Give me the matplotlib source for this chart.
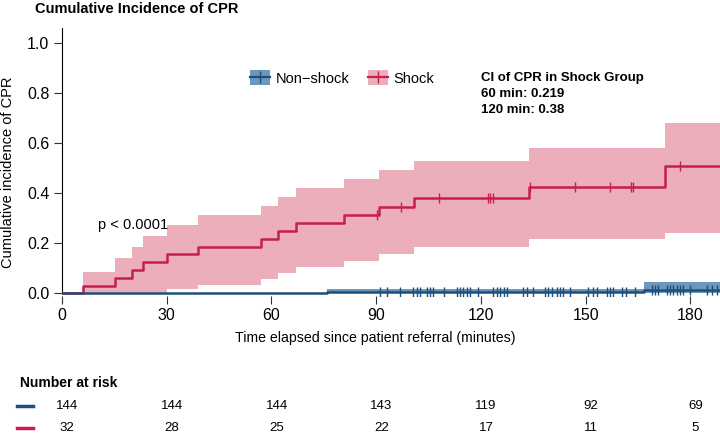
import numpy as np
import matplotlib
matplotlib.use("Agg")
import matplotlib.pyplot as plt
from matplotlib.patches import Patch
from matplotlib.lines import Line2D
from matplotlib.transforms import blended_transform_factory

plt.rcParams['font.family'] = ['Liberation Sans', 'DejaVu Sans']

# Shock group: cumulative incidence steps and confidence band
shock_time = [0, 6.1, 15.2, 20.1, 23.1, 30.0, 39.1, 57.0, 62.0, 67.0, 80.9, 90.9, 100.9, 133.9, 172.8]
shock_est = [0, 0.031, 0.0625, 0.094, 0.125, 0.156, 0.187, 0.219, 0.25, 0.282, 0.313, 0.346, 0.380, 0.426, 0.509]
shock_lower = [0, 0, 0, 0, 0, 0.016, 0.033, 0.057, 0.082, 0.106, 0.129, 0.157, 0.186, 0.216, 0.24]
shock_upper = [0, 0.087, 0.14, 0.186, 0.23, 0.273, 0.313, 0.35, 0.386, 0.422, 0.457, 0.493, 0.529, 0.58, 0.682]
shock_censor = [90.2, 97.0, 108.0, 122.0, 122.6, 123.4, 134.2, 147.0, 157.0, 163.0, 163.7, 176.9]

# Non-shock group
nonshock_time = [0, 75.8, 166.6]
nonshock_est = [0, 0.007, 0.015]
nonshock_lower = [0, 0, 0]
nonshock_upper = [0, 0.017, 0.044]
nonshock_censor = [91.1, 93.2, 96.8, 100.6, 101.6, 102.6, 104.5, 105.4, 106.4, 109.3,
                   113.1, 114.0, 115.0, 115.9, 116.9, 119.3, 123.6, 124.5, 125.5, 126.5,
                   127.4, 132.2, 133.1, 135.0, 138.4, 139.3, 140.3, 141.7, 142.7, 143.6,
                   145.5, 150.8, 152.2, 153.2, 156.0, 157.0, 157.9, 160.3, 161.7, 164.1,
                   168.9, 169.8, 170.8, 173.2, 174.1, 175.1, 176.1, 177.0, 178.0, 179.9,
                   184.7, 186.1, 187.6]

risk_times = [0, 30, 60, 90, 120, 150, 180]
risk_nonshock = [144, 144, 144, 143, 119, 92, 69]
risk_shock = [32, 28, 25, 22, 17, 11, 5]

x_max = 188.5
blue, blue_fill = '#1F4E7A', '#6E97BE'
red, red_fill = '#C81E4E', '#ECAEBB'

W, H = 720, 437
fig = plt.figure(figsize=(7.2, 4.37), dpi=100)
ax = fig.add_axes([62 / W, 1 - 296 / H, (W - 62) / W, (296 - 28) / H])


def draw_group(times, est, lower, upper, censor, line_col, fill_col):
    t = np.append(times, x_max)
    e = np.append(est, est[-1])
    lo = np.append(lower, lower[-1])
    up = np.append(upper, upper[-1])
    ax.fill_between(t, lo, up, step='post', color=fill_col, linewidth=0, zorder=1)
    ax.step(t, e, where='post', color=line_col, lw=1.8, zorder=3)
    idx = np.searchsorted(times, censor, side='right') - 1
    ax.plot(censor, np.array(est)[idx], ls='none', marker='|', ms=7, mew=1.0,
            color=line_col, zorder=4)


draw_group(shock_time, shock_est, shock_lower, shock_upper, shock_censor, red, red_fill)
draw_group(nonshock_time, nonshock_est, nonshock_lower, nonshock_upper, nonshock_censor,
           blue, blue_fill)

ax.set_xlim(0, x_max)
ax.set_ylim(-0.01, 1.06)
ax.set_xticks(risk_times)
ax.set_yticks(np.arange(0, 1.01, 0.2))
ax.yaxis.set_major_formatter(plt.FormatStrFormatter('%.1f'))
for s in ['top', 'right', 'bottom']:
    ax.spines[s].set_visible(False)
ax.spines['left'].set_bounds(0, 1.06)
ax.tick_params(axis='both', labelsize=11.5, length=6, width=0.8, color='#333333', pad=3)

# legend
h_ns = (Patch(facecolor=blue_fill, edgecolor='none'),
        Line2D([], [], color=blue, lw=1.6, marker='|', ms=9, mew=1.0))
h_s = (Patch(facecolor=red_fill, edgecolor='none'),
       Line2D([], [], color=red, lw=1.6, marker='|', ms=9, mew=1.0))
fig.legend([h_ns, h_s], ['Non\u2212shock', 'Shock'], ncol=2, frameon=False,
           loc='center', bbox_to_anchor=(342 / W, 1 - 78 / H), fontsize=10.5,
           handlelength=1.4, handleheight=1.2, handletextpad=0.35, columnspacing=1.3)

fig.text(35 / W, 1 - 2 / H, 'Cumulative Incidence of CPR', fontsize=10.5,
         fontweight='bold', ha='left', va='top')
fig.text(481 / W, 1 - 72 / H, 'CI of CPR in Shock Group\n60 min: 0.219\n120 min: 0.38',
         fontsize=9.5, fontweight='bold', ha='left', va='top', linespacing=1.45)
fig.text(98 / W, 1 - 225 / H, 'p < 0.0001', fontsize=10.5, ha='left', va='center')
fig.text(8 / W, 1 - 172 / H, 'Cumulative incidence of CPR', fontsize=10.5,
         rotation=90, ha='center', va='center')
fig.text(375.5 / W, 1 - 338 / H, 'Time elapsed since patient referral (minutes)',
         fontsize=10.2, ha='center', va='center')

# number at risk table
fig.text(20 / W, 1 - 383 / H, 'Number at risk', fontsize=10, fontweight='bold',
         ha='left', va='center')
trans = blended_transform_factory(ax.transData, fig.transFigure)
for row_y, counts, col in [(406, risk_nonshock, blue), (428, risk_shock, red)]:
    yf = 1 - row_y / H
    fig.add_artist(Line2D([17 / W, 33 / W], [yf, yf], color=col, lw=2.5,
                          transform=fig.transFigure))
    for t, n in zip(risk_times, counts):
        ax.text(t + 1.5, yf, str(n), transform=trans, fontsize=9.5, ha='center',
                va='center', clip_on=False)

fig.savefig('out.png', dpi=100)
